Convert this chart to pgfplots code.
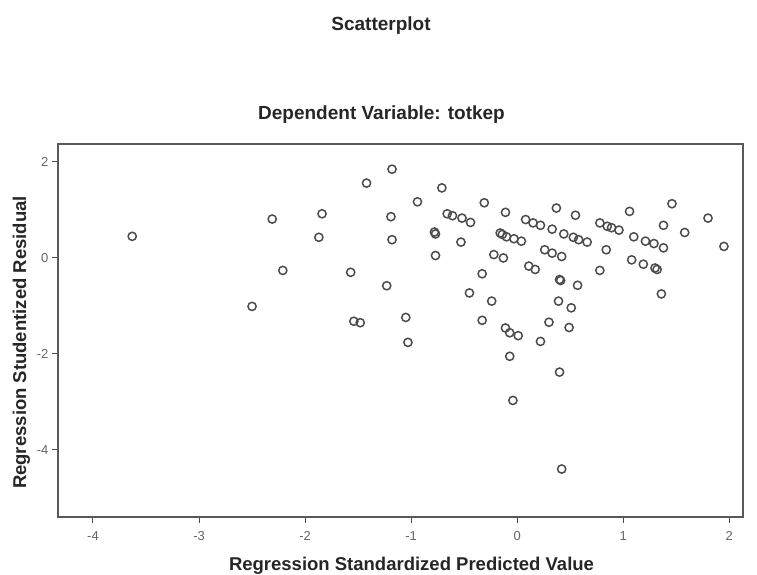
\documentclass[border=0pt]{standalone}
\usepackage{pgfplots}
\pgfplotsset{compat=1.18}
\usepackage{fontspec}
\setmainfont{Liberation Sans}
\begin{document}
\begin{tikzpicture}[x=1pt,y=1pt]
\useasboundingbox (0,0) rectangle (757,-575);
\node[font=\bfseries\fontsize{19}{22}\selectfont, anchor=base, text=black!85] at (381,-31) {Scatterplot};
\begin{axis}[
  at={(58pt,-517pt)}, anchor=south west,
  scale only axis, width=685pt, height=373pt,
  xmin=-4.33, xmax=2.13, ymin=-5.40, ymax=2.375,
  xtick={-4,-3,-2,-1,0,1,2}, xticklabels={-4,-3,-2,-1,0,1,2},
  ytick={-4,-2,0,2}, yticklabels={-4,-2,0,2},
  tick pos=left, tick align=outside, major tick length=6pt,
  tick style={black!70, line width=1pt},
  ticklabel style={font=\fontsize{13}{15}\selectfont, text=black!60},
  xticklabel style={yshift=-5pt},
  axis line style={black!65, line width=1.4pt},
  title={Dependent Variable: totkep},
  title style={font=\bfseries\fontsize{19}{22}\selectfont, anchor=base, at={(0.5,1)}, yshift=18pt, xshift=-19pt, text=black!85},
  xlabel={Regression Standardized Predicted Value},
  ylabel={Regression Studentized Residual},
  label style={font=\bfseries\fontsize{18.5}{22}\selectfont, text=black!85},
  xlabel style={yshift=-9pt, xshift=11pt},
  ylabel style={yshift=0pt, xshift=-12pt},
]
\addplot[only marks, mark=o, mark size=4.1pt, mark options={line width=1.5pt, draw=black!70}] coordinates {
(-3.63,0.45) (-2.50,-1.01) (-2.31,0.81) (-2.21,-0.26) (-1.84,0.92) (-1.87,0.43)
(-1.57,-0.30) (-1.54,-1.32) (-1.48,-1.35) (-1.42,1.56) (-1.18,1.85) (-1.19,0.86)
(-1.18,0.38) (-1.23,-0.58) (-1.05,-1.24) (-1.03,-1.76) (-0.94,1.17) (-0.71,1.46)
(-0.66,0.92) (-0.61,0.88) (-0.52,0.83) (-0.44,0.74) (-0.78,0.54) (-0.77,0.50)
(-0.53,0.33) (-0.77,0.05) (-0.31,1.15) (-0.11,0.95) (-0.33,-0.33) (-0.45,-0.73)
(-0.24,-0.90) (-0.33,-1.30) (-0.22,0.07) (-0.13,0.00) (-0.16,0.52) (-0.14,0.49)
(-0.10,0.44) (-0.03,0.40) (0.04,0.35) (-0.11,-1.46) (-0.07,-1.56) (0.01,-1.62)
(-0.07,-2.05) (-0.04,-2.97) (0.08,0.80) (0.15,0.73) (0.22,0.68) (0.33,0.60)
(0.37,1.04) (0.55,0.89) (0.44,0.50) (0.53,0.43) (0.58,0.38) (0.66,0.33)
(0.26,0.17) (0.33,0.10) (0.42,0.03) (0.11,-0.17) (0.17,-0.24) (0.40,-0.45)
(0.41,-0.47) (0.57,-0.57) (0.39,-0.90) (0.51,-1.04) (0.30,-1.34) (0.49,-1.45)
(0.22,-1.74) (0.40,-2.38) (0.42,-4.40) (0.78,0.73) (0.85,0.66) (0.89,0.63)
(0.96,0.58) (1.06,0.97) (0.84,0.17) (0.78,-0.26) (1.10,0.44) (1.21,0.35)
(1.29,0.30) (1.38,0.21) (1.08,-0.04) (1.19,-0.13) (1.30,-0.21) (1.32,-0.24)
(1.36,-0.75) (1.46,1.13) (1.38,0.68) (1.58,0.53) (1.80,0.83) (1.95,0.24)
};
\end{axis}
\end{tikzpicture}
\end{document}
